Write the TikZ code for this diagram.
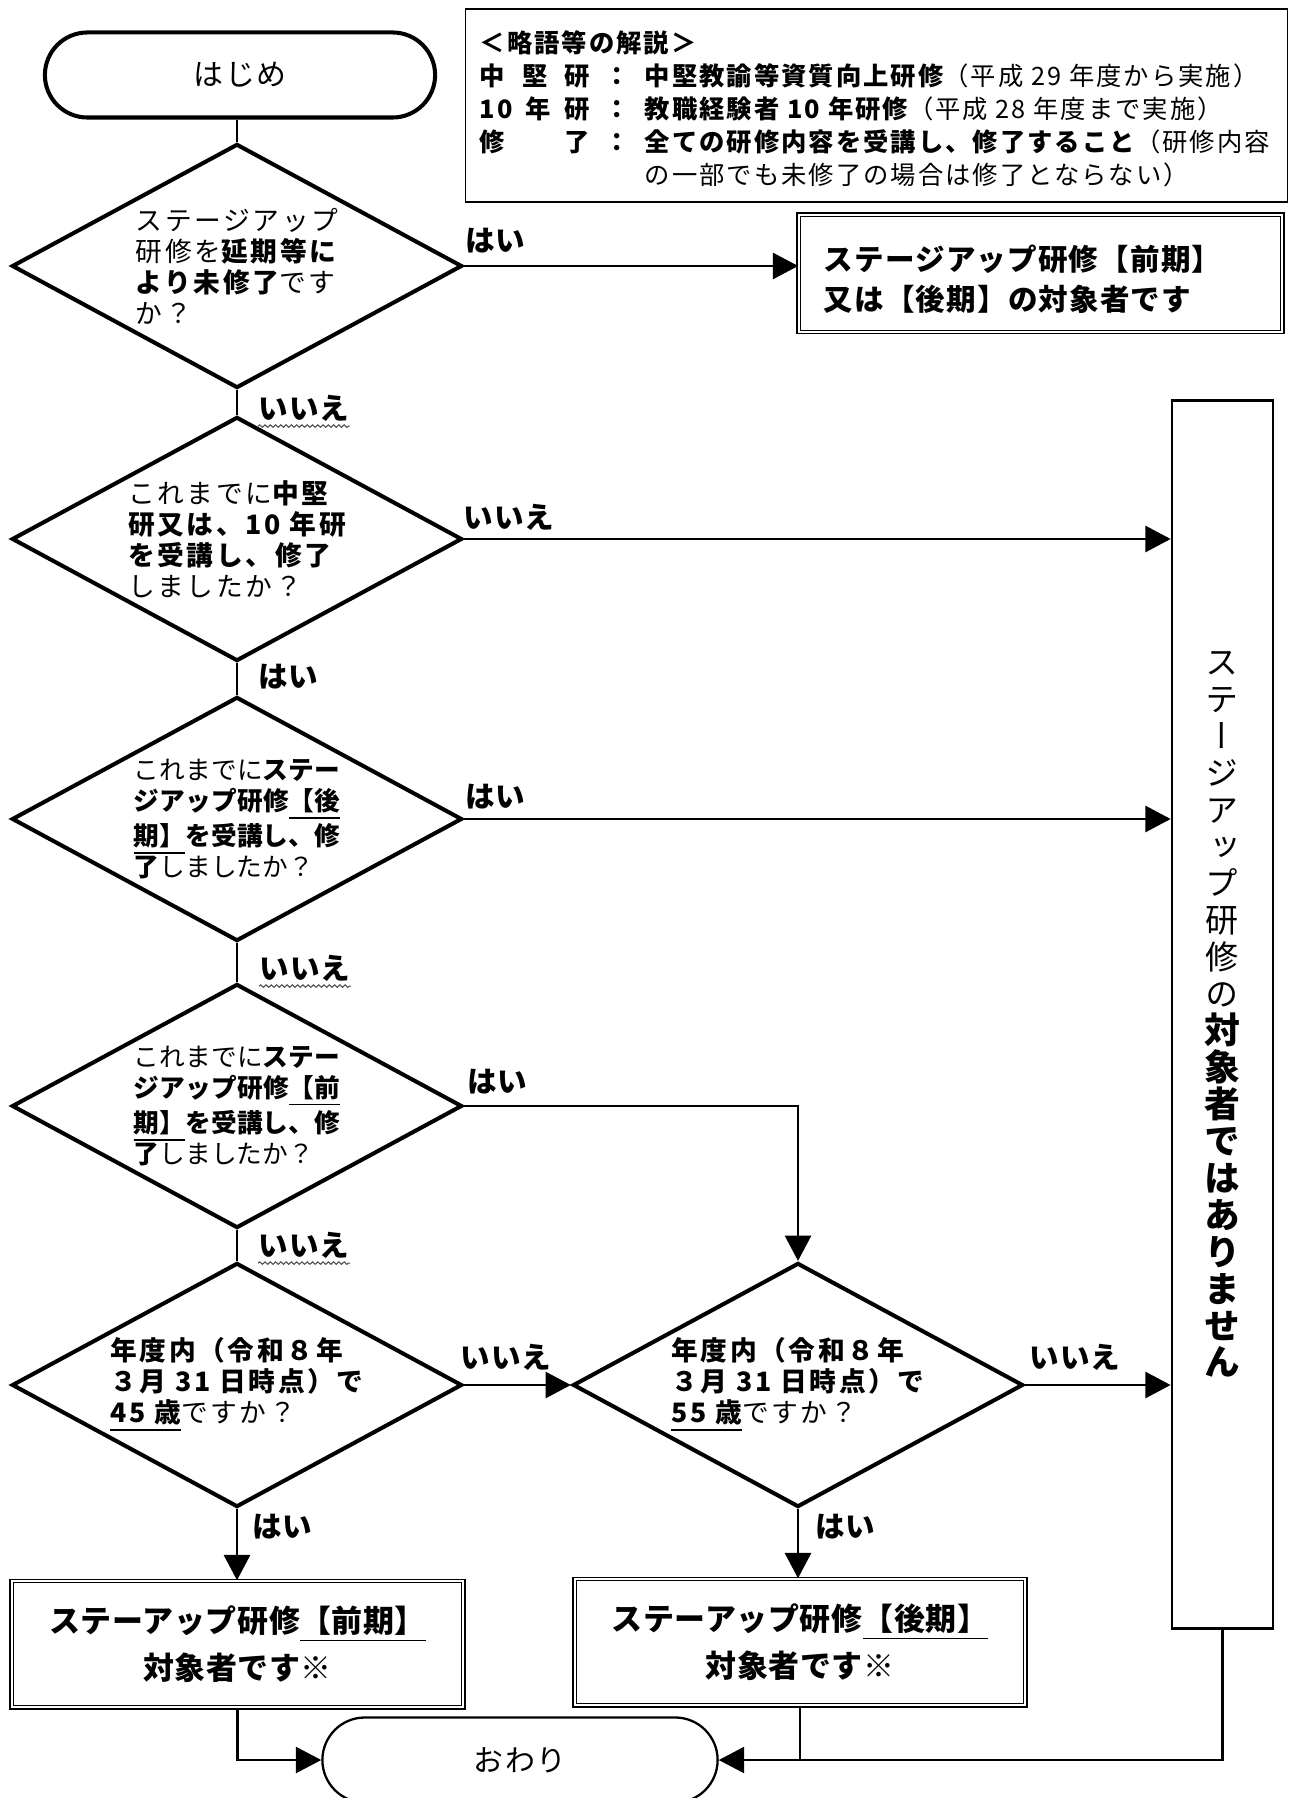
\documentclass[tikz,border=0pt]{standalone}
\usepackage{fontspec}
\setmainfont{Noto Sans CJK JP}
\newfontfamily\tatefont[RawFeature=+vert]{Noto Sans CJK JP}
\usepackage{tikz}
\usetikzlibrary{arrows.meta}
\usetikzlibrary{shapes.geometric}
\usetikzlibrary{shapes.misc}
\usetikzlibrary{decorations.pathmorphing}

\newcommand{\goth}[1]{{\bfseries #1}}
\newcommand{\tgoth}[1]{{\bfseries\fontsize{10.2pt}{10.5pt}\selectfont #1}}
\newcommand{\fsz}[2]{\fontsize{#1}{#2}\selectfont}
\newcommand{\term}[1]{\hbox to 1.1cm{#1}\hbox to 0.55cm{\hfil ：\hfil}}

\tikzset{
  dia/.style={diamond, draw, line width=1.15pt, minimum width=4.5cm, minimum height=2.44cm, inner sep=0pt},
  qtext/.style={align=left, inner sep=0pt, font=\fsz{7.6pt}{8.8pt}\addfontfeatures{LetterSpace=10}},
  qtextb/.style={align=left, inner sep=0pt, font=\fsz{7.3pt}{8.8pt}\addfontfeatures{LetterSpace=1}},
  term/.style={rounded rectangle, draw, minimum width=3.9cm, minimum height=0.85cm, inner sep=0pt, font=\fsz{8.5pt}{10pt}\addfontfeatures{LetterSpace=4}},
  dbox/.style={draw, double, line width=0.4pt, double distance=0.6pt, inner sep=0pt, font=\bfseries\fsz{8.8pt}{13.4pt}\addfontfeatures{LetterSpace=2}},
  lbl/.style={inner sep=0pt, font=\bfseries\fsz{8.4pt}{9pt}\addfontfeatures{LetterSpace=3}},
  conn/.style={line width=0.8pt},
  thinconn/.style={line width=0.6pt},
  arr/.style={-{Triangle[length=7.2pt,width=7.4pt]}},
  wavy/.style={black!70, line width=0.3pt, decorate, decoration={snake, amplitude=0.35pt, segment length=1.5pt}}
}

\begin{document}
\begin{tikzpicture}[x=0.01cm,y=-0.01cm]
\useasboundingbox (0,0) rectangle (1291,1798);
\clip (0,0) rectangle (1291,1798);

% legend
\node[draw, line width=0.4pt, minimum width=8.21cm, minimum height=1.93cm, inner sep=0pt] (legend) at (876.5,105.5) {};
\node[anchor=west, align=left, inner sep=0pt, font=\fsz{7.2pt}{9.4pt}\addfontfeatures{LetterSpace=8}] (legtxt) at (479,109) {\goth{＜略語等の解説＞}\\\goth{\term{中\hfil 堅\hfil 研}中堅教諭等資質向上研修}（平成 29 年度から実施）\\\goth{\term{10\hfil 年\hfil 研}教職経験者 10 年研修}（平成 28 年度まで実施）\\\goth{\term{修\hfil 了}全ての研修内容を受講し、修了すること}（研修内容\\\hspace*{1.65cm}の一部でも未修了の場合は修了とならない）};

% flow
\node[term, line width=1.15pt] (start) at (240,75) {はじめ};

\node[dia] (q1) at (237,266) {};
\node[qtext] (q1t) at (q1) {ステージアップ\\研修を\goth{延期等に}\\\goth{より未修了}です\\か？};

\node[dia] (q2) at (237,539) {};
\node[qtext] (q2t) at (q2) {これまでに\goth{中堅}\\\goth{研又は、10 年研}\\\goth{を受講し、修了}\\しましたか？};

\node[dia] (q3) at (237,819) {};
\node[qtextb] (q3t) at (q3) {これまでに\goth{ステー}\\\goth{ジアップ研修\underline{【後}}\\\goth{\underline{期】}を受講し、修}\\\goth{了}しましたか？};

\node[dia] (q4) at (237,1106) {};
\node[qtextb] (q4t) at (q4) {これまでに\goth{ステー}\\\goth{ジアップ研修\underline{【前}}\\\goth{\underline{期】}を受講し、修}\\\goth{了}しましたか？};

\node[dia] (q5) at (237,1385) {};
\node[qtext] (q5t) at (q5) {\goth{年度内（令和８年}\\\goth{３月 31 日時点）で}\\\goth{\underline{45 歳}}ですか？};

\node[dia] (q6) at (798,1385) {};
\node[qtext] (q6t) at (q6) {\goth{年度内（令和８年}\\\goth{３月 31 日時点）で}\\\goth{\underline{55 歳}}ですか？};

\node[dbox, minimum width=4.83cm, minimum height=1.17cm] (both) at (1040.5,273.5) {};
\node[anchor=west, align=left, inner sep=0pt, font=\bfseries\fsz{8.4pt}{11.3pt}\addfontfeatures{LetterSpace=4}] (bothtxt) at (823,279) {ステージアップ研修【前期】\\又は【後期】の対象者です};

\node[draw, line width=0.75pt, minimum width=1.01cm, minimum height=12.27cm, inner sep=0pt, align=center, font=\tatefont\fsz{9.4pt}{10.5pt}] (nottarget) at (1222.5,1014.5) {ス\\テ\\ー\\ジ\\ア\\ッ\\プ\\研\\修\\の\\\tgoth{対}\\\tgoth{象}\\\tgoth{者}\\\tgoth{で}\\\tgoth{は}\\\tgoth{あ}\\\tgoth{り}\\\tgoth{ま}\\\tgoth{せ}\\\tgoth{ん}};

\node[dbox, minimum width=4.51cm, minimum height=1.26cm, align=center] (early) at (237.5,1644) {ステーアップ研修\underline{【前期】}\\対象者です※};
\node[dbox, minimum width=4.5cm, minimum height=1.26cm, align=center] (late) at (800,1642) {ステーアップ研修\underline{【後期】}\\対象者です※};

\node[term, line width=0.65pt, minimum width=3.95cm] (finish) at (520,1760) {おわり};

% labels
\node[lbl] (y1) at (495,241) {はい};
\node[lbl] (n1) at (304,408) {いいえ};
\node[lbl] (n2) at (509,517) {いいえ};
\node[lbl] (y2) at (288,677) {はい};
\node[lbl] (y3) at (495,797) {はい};
\node[lbl] (n3) at (305,968) {いいえ};
\node[lbl] (y4) at (497,1082) {はい};
\node[lbl] (n4) at (304,1245) {いいえ};
\node[lbl] (n5) at (506,1357) {いいえ};
\node[lbl] (n6) at (1075,1357) {いいえ};
\node[lbl] (y5) at (282,1527) {はい};
\node[lbl] (y6) at (845,1527) {はい};

\foreach \w in {n1,n3,n4}
	\draw[wavy] ([yshift=-1.2pt]\w.south west) -- ([yshift=-1.2pt]\w.south east);

% connectors
\draw[conn] (q1.north |- start.south) -- (q1.north);
\draw[conn,arr] (q1.east) -- (q1.east -| both.west);
\draw[conn] (q1.south) -- (q2.north);
\draw[conn,arr] (q2.east) -- (q2.east -| nottarget.west);
\draw[conn] (q2.south) -- (q3.north);
\draw[conn,arr] (q3.east) -- (q3.east -| nottarget.west);
\draw[conn] (q3.south) -- (q4.north);
\draw[conn,arr] (q4.east) -| (q6.north);
\draw[conn] (q4.south) -- (q5.north);
\draw[conn,arr] (q5.east) -- (q6.west);
\draw[conn,arr] (q6.east) -- (q6.east -| nottarget.west);
\draw[conn,arr] (q5.south) -- (q5.south |- early.north);
\draw[conn,arr] (q6.south) -- (q6.south |- late.north);
\draw[thinconn,arr] (early.south) |- (finish.west);
\draw[thinconn,arr] (nottarget.south) |- (finish.east);
\draw[thinconn] (late.south) -- (late.south |- finish.east);
\end{tikzpicture}
\end{document}
